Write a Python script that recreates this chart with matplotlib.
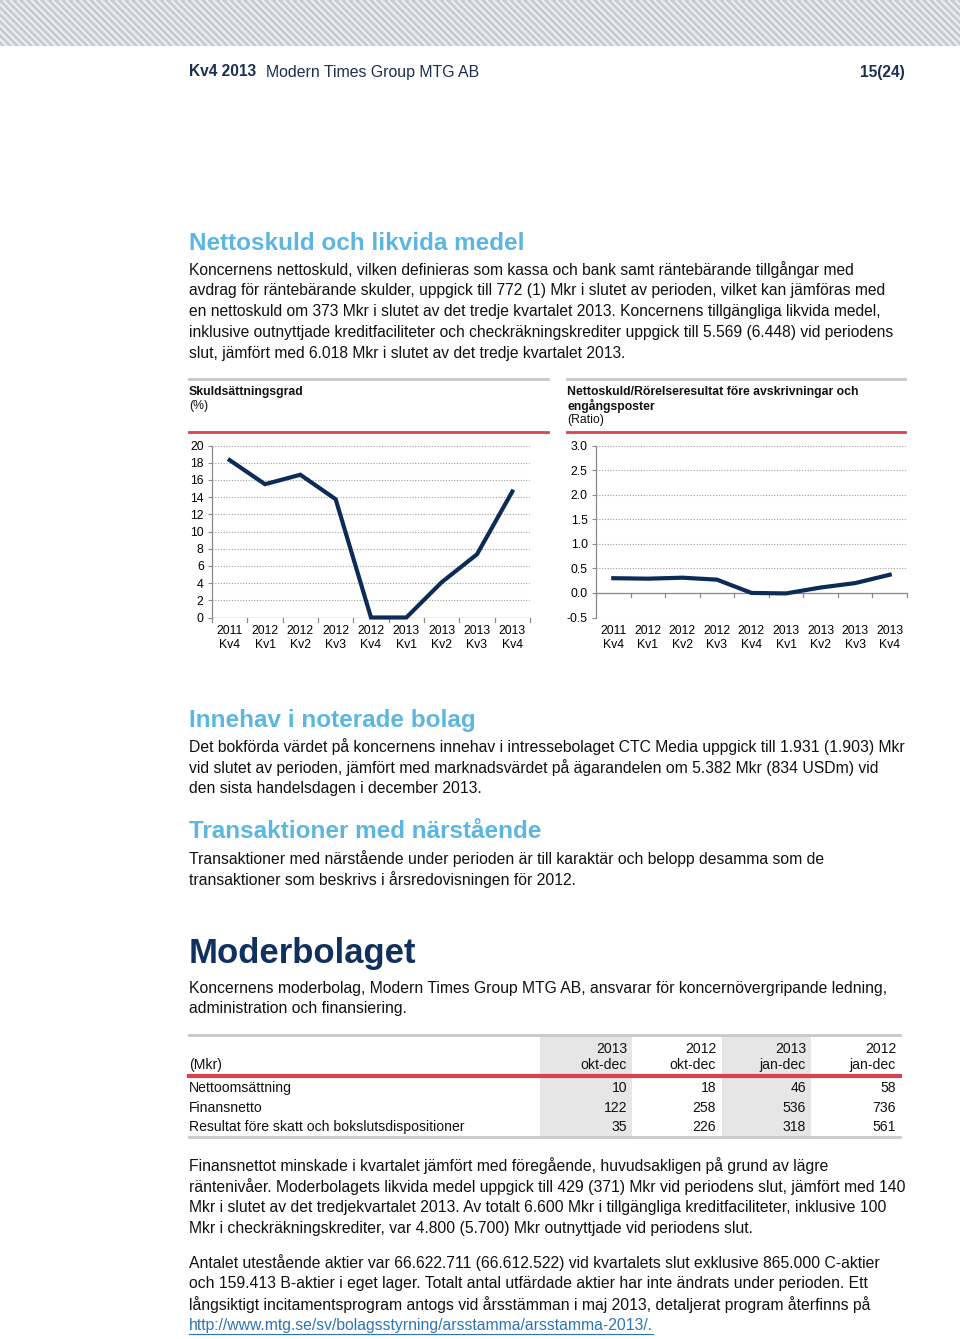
import matplotlib
matplotlib.use("Agg")
import matplotlib.pyplot as plt
from matplotlib.lines import Line2D
from matplotlib.patches import Rectangle

plt.rcParams['font.family'] = ['Liberation Sans', 'DejaVu Sans']

W, H = 960, 1339
fig = plt.figure(figsize=(9.6, 13.39), dpi=100)

# ---------------- data ----------------
quarters = ["2011\nKv4", "2012\nKv1", "2012\nKv2", "2012\nKv3", "2012\nKv4",
            "2013\nKv1", "2013\nKv2", "2013\nKv3", "2013\nKv4"]
gearing_pct = [18.3, 15.5, 16.6, 13.75, 0.0, 0.0, 4.1, 7.35, 14.65]
netdebt_ebitda = [0.30, 0.29, 0.31, 0.27, 0.0, -0.01, 0.11, 0.20, 0.37]

table_cols = [("2013", "okt-dec"), ("2012", "okt-dec"), ("2013", "jan-dec"), ("2012", "jan-dec")]
table_rows = ["Nettoomsättning", "Finansnetto", "Resultat före skatt och bokslutsdispositioner"]
table_vals = [[10, 18, 46, 58],
              [122, 258, 536, 736],
              [35, 226, 318, 561]]

NAVY = "#1B2F52"
LBLUE = "#5CB6E2"
DNAVY = "#10305E"
RED = "#D9434E"
GREY_LINE = "#C8C8C8"
TXT = "#111111"
BODY = 11.3


def fx(x):
    return x / W


def fy(y):
    return 1 - y / H


def text(x, y, s, **kw):
    kw.setdefault("va", "center")
    kw.setdefault("ha", "left")
    kw.setdefault("color", TXT)
    return fig.text(fx(x), fy(y), s, **kw)


def hline(x0, x1, y, color, lw):
    fig.add_artist(Line2D([fx(x0), fx(x1)], [fy(y), fy(y)], color=color, lw=lw,
                          transform=fig.transFigure))


# ---------------- header stripes ----------------
sax = fig.add_axes([0, fy(46), 1, 46 / H])
sax.set_xlim(0, W)
sax.set_ylim(46, 0)
sax.axis("off")
sax.add_patch(Rectangle((0, 0), W, 46, color="#C9CCD5", lw=0))
for x0 in range(-60, W + 10, 7):
    sax.plot([x0, x0 + 46], [0, 46], color="#F0F1F4", lw=1.4, solid_capstyle="butt")

text(189, 72, "Kv4 2013", fontsize=11.2, fontweight="bold", color=NAVY)
text(266, 72, "Modern Times Group MTG AB", fontsize=11.4, color=NAVY)
text(905, 72, "15(24)", fontsize=11.2, fontweight="bold", color=NAVY, ha="right")

# ---------------- section 1 ----------------
text(189, 243, "Nettoskuld och likvida medel", fontsize=17.5, fontweight="bold", color=LBLUE)
para1 = [
    "Koncernens nettoskuld, vilken definieras som kassa och bank samt räntebärande tillgångar med",
    "avdrag för räntebärande skulder, uppgick till 772 (1) Mkr i slutet av perioden, vilket kan jämföras med",
    "en nettoskuld om 373 Mkr i slutet av det tredje kvartalet 2013. Koncernens tillgängliga likvida medel,",
    "inklusive outnyttjade kreditfaciliteter och checkräkningskrediter uppgick till 5.569 (6.448) vid periodens",
    "slut, jämfört med 6.018 Mkr i slutet av det tredje kvartalet 2013.",
]
for i, s in enumerate(para1):
    text(189, 270 + i * 20.8, s, fontsize=11.22)

# ---------------- charts ----------------
def chart(left, right, top, bottom, vals, ylim, yticks, ytl, baseline,
          title_lines, tx0, tx1):
    hline(tx0, tx1, 379, GREY_LINE, 2)
    for j, s in enumerate(title_lines):
        bold = j < len(title_lines) - 1
        text(tx0, 392 + j * 14, s, fontsize=8.8, fontweight="bold" if bold else "normal")
    hline(tx0, tx1, 432, RED, 2)
    ax = fig.add_axes([fx(left), fy(bottom), (right - left) / W, (bottom - top) / H])
    n = len(vals)
    ax.set_xlim(-0.5, n - 0.5)
    ax.set_ylim(*ylim)
    for t in yticks:
        ax.axhline(t, color="#A0A0A0", lw=0.8, ls=(0, (1, 1.5)), zorder=1)
    ax.plot(range(n), vals, color="#0D2B57", lw=3.0, solid_joinstyle="miter", zorder=3, clip_on=False)
    for sp in ["top", "right", "bottom"]:
        ax.spines[sp].set_visible(False)
    ax.spines["left"].set_color("#8A8A8A")
    ax.spines["left"].set_linewidth(0.9)
    ax.axhline(baseline, color="#8A8A8A", lw=0.9, zorder=2)
    ax.set_yticks(yticks)
    ax.set_yticklabels(ytl, fontsize=8.8)
    ax.tick_params(axis="y", length=3, color="#8A8A8A", pad=3)
    ax.set_xticks([])
    ymin, ymax = ylim
    dy = (ymax - ymin) * 4.5 / (bottom - top)
    for k in range(n + 1):
        ax.plot([k - 0.5, k - 0.5], [baseline, baseline - dy], color="#8A8A8A", lw=0.9, clip_on=False)
    ylab = ymin - (ymax - ymin) * 8 / (bottom - top)
    for k, lab in enumerate(quarters):
        ax.text(k, ylab, lab, ha="center", va="top", fontsize=8.8, linespacing=1.2)
    return ax


chart(212, 530, 445.5, 617.5, gearing_pct, (0, 20), list(range(0, 21, 2)),
      [str(v) for v in range(0, 21, 2)], 0,
      ["Skuldsättningsgrad", "(%)"], 189, 548)

yt = [-0.5, 0, 0.5, 1.0, 1.5, 2.0, 2.5, 3.0]
chart(596, 907, 445.5, 617.5, netdebt_ebitda, (-0.5, 3.0), yt,
      [f"{v:.1f}" for v in yt], 0,
      ["Nettoskuld/Rörelseresultat före avskrivningar och", "engångsposter", "(Ratio)"], 567, 905)

# ---------------- section 2 ----------------
text(189, 720, "Innehav i noterade bolag", fontsize=17.5, fontweight="bold", color=LBLUE)
para2 = [
    "Det bokförda värdet på koncernens innehav i intressebolaget CTC Media uppgick till 1.931 (1.903) Mkr",
    "vid slutet av perioden, jämfört med marknadsvärdet på ägarandelen om 5.382 Mkr (834 USDm) vid",
    "den sista handelsdagen i december 2013.",
]
for i, s in enumerate(para2):
    text(189, 747 + i * 20.8, s, fontsize=BODY)

text(189, 832, "Transaktioner med närstående", fontsize=17.5, fontweight="bold", color=LBLUE)
para3 = [
    "Transaktioner med närstående under perioden är till karaktär och belopp desamma som de",
    "transaktioner som beskrivs i årsredovisningen för 2012.",
]
for i, s in enumerate(para3):
    text(189, 859 + i * 20.8, s, fontsize=BODY)

text(189, 954, "Moderbolaget", fontsize=25, fontweight="bold", color=DNAVY)
para4 = [
    "Koncernens moderbolag, Modern Times Group MTG AB, ansvarar för koncernövergripande ledning,",
    "administration och finansiering.",
]
for i, s in enumerate(para4):
    text(189, 988 + i * 20.8, s, fontsize=BODY)

# ---------------- table ----------------
col_right = [627, 716, 806, 896]
shade = [(540, 632), (722, 811)]
for a, b in shade:
    fig.add_artist(Rectangle((fx(a), fy(1137)), (b - a) / W, (1137 - 1035) / H,
                             transform=fig.transFigure, color="#E6E6E6", lw=0, zorder=0))
hline(189, 900, 1035, GREY_LINE, 2)
hline(189, 900, 1075.5, RED, 3)
hline(189, 900, 1137, GREY_LINE, 2)
TF = 10.1
text(189, 1065, "(Mkr)", fontsize=TF)
for c, (a, b) in enumerate(table_cols):
    text(col_right[c], 1049, a, fontsize=TF, ha="right")
    text(col_right[c], 1065, b, fontsize=TF, ha="right")
for r, name in enumerate(table_rows):
    y = 1088 + r * 19.7
    text(189, y, name, fontsize=TF)
    for c in range(4):
        text(col_right[c], y, str(table_vals[r][c]), fontsize=TF, ha="right")

# ---------------- section 3 ----------------
para5 = [
    "Finansnettot minskade i kvartalet jämfört med föregående, huvudsakligen på grund av lägre",
    "räntenivåer. Moderbolagets likvida medel uppgick till 429 (371) Mkr vid periodens slut, jämfört med 140",
    "Mkr i slutet av det tredjekvartalet 2013. Av totalt 6.600 Mkr i tillgängliga kreditfaciliteter, inklusive 100",
    "Mkr i checkräkningskrediter, var 4.800 (5.700) Mkr outnyttjade vid periodens slut.",
]
for i, s in enumerate(para5):
    text(189, 1166 + i * 20.8, s, fontsize=BODY)

para6 = [
    "Antalet utestående aktier var 66.622.711 (66.612.522) vid kvartalets slut exklusive 865.000 C-aktier",
    "och 159.413 B-aktier i eget lager. Totalt antal utfärdade aktier har inte ändrats under perioden. Ett",
    "långsiktigt incitamentsprogram antogs vid årsstämman i maj 2013, detaljerat program återfinns på",
]
for i, s in enumerate(para6):
    text(189, 1263 + i * 20.8, s, fontsize=BODY)
link = text(189, 1325.5, "http://www.mtg.se/sv/bolagsstyrning/arsstamma/arsstamma-2013/.",
            fontsize=BODY, color="#2E74B5")
fig.canvas.draw()
bb = link.get_window_extent()
hline(189, 189 + bb.width, 1333.5, "#2E74B5", 0.8)

fig.savefig("out.png", dpi=100)
